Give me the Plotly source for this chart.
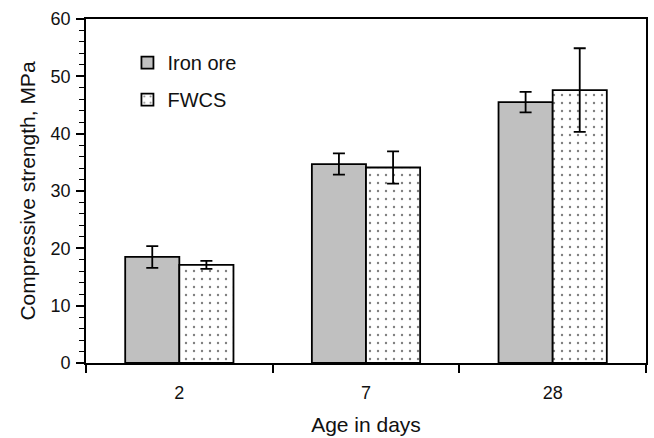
import plotly.graph_objects as go

ages = ["2", "7", "28"]
iron_ore = [18.5, 34.7, 45.5]
iron_ore_err = [1.9, 1.85, 1.8]
fwcs = [17.1, 34.1, 47.6]
fwcs_err = [0.7, 2.8, 7.3]

font = "Liberation Sans, Arial, sans-serif"

fig = go.Figure()
fig.add_trace(go.Bar(
    x=ages, y=iron_ore, name="Iron ore", legendgroup="a",
    marker=dict(color="#c0c0c0", line=dict(color="black", width=1.8)),
    error_y=dict(type="data", array=iron_ore_err, color="black", thickness=1.8, width=6),
))
fig.add_trace(go.Bar(
    x=ages, y=fwcs, name="FWCS", legendgroup="b",
    marker=dict(color="white", line=dict(color="black", width=1.8),
                pattern=dict(shape=".", fgcolor="black", bgcolor="white", size=8, solidity=0.07)),
    error_y=dict(type="data", array=fwcs_err, color="black", thickness=1.8, width=6),
))

fig.update_layout(
    width=654, height=438,
    margin=dict(l=86, r=8, t=19, b=75),
    paper_bgcolor="white", plot_bgcolor="white",
    barmode="group", bargap=0.42, bargroupgap=0,
    font=dict(family=font, size=18, color="#111111"),
    legend=dict(x=0.074, y=0.93, xanchor="left", yanchor="top",
                bgcolor="rgba(0,0,0,0)", font=dict(size=20),
                tracegroupgap=8, traceorder="grouped"),
    xaxis=dict(type="category", tickson="boundaries", ticks="outside", ticklen=8,
               tickwidth=1.5, tickcolor="black", ticklabelstandoff=12, automargin=False,
               showline=True, linecolor="black", linewidth=1.8, mirror=True,
               title=dict(text="Age in days", font=dict(size=21), standoff=16),
               tickfont=dict(size=18)),
    yaxis=dict(range=[0, 60], tick0=0, dtick=10, ticks="outside", ticklen=8,
               tickwidth=1.5, tickcolor="black", ticklabelstandoff=2, automargin=False,
               minor=dict(dtick=2, ticks="outside", ticklen=5, tickcolor="black", tickwidth=1.2),
               showline=True, linecolor="black", linewidth=1.8, mirror=True,
               showgrid=False, zeroline=False,
               title=dict(text="Compressive strength, MPa", font=dict(size=21), standoff=9),
               tickfont=dict(size=18)),
)

fig.write_html("out.html")
